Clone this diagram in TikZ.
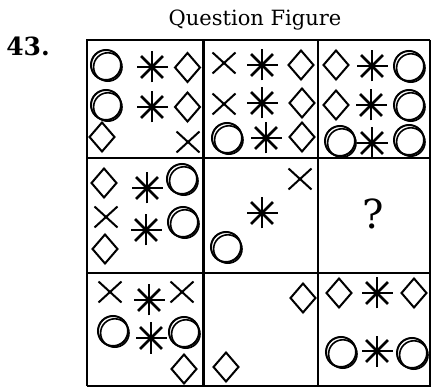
\documentclass[tikz,border=0pt]{standalone}
\usepackage{fontspec}
\setmainfont{DejaVu Serif}
\tikzset{
    symline/.style={line width=2.5pt, black},
    gridline/.style={line width=2.8pt, black},
    rimline/.style={line width=1.6pt, black},
    pics/ringsym/.style={code={
        \draw[line width=2pt] (0,0) circle (15);
        \draw[line width=1.6pt] (1.8,2) circle (14.2);
    }},
    pics/astsym/.style={code={
        \foreach \a in {0,45,90,135}
            \draw[symline] (\a:15.5) -- (\a+180:15.5);
    }},
    pics/diasym/.style={code={
        \draw[line width=2pt, miter limit=20] (0,-14.5) -- (12.5,0) -- (0,14.5) -- (-12.5,0) -- cycle;
    }},
    pics/crosssym/.style={code={
        \draw[line width=2pt] (-11.5,-10.5) -- (11.5,10.5) (-11.5,10.5) -- (11.5,-10.5);
    }}
}
\begin{document}
\begin{tikzpicture}[x=1pt, y=-1pt]
    \useasboundingbox (0,0) rectangle (431,387);
    % headings
    \node (title) at (255,20) {\fontsize{21}{24}\selectfont Question Figure};
    \node (qnum) at (28,46) {\fontsize{25}{28}\selectfont\bfseries 43.};
    % grid
    \draw[gridline] (87,386) -- (87,40) -- (430,40);
    \draw[rimline] (430,40) -- (430,386) -- (87,386);
    \draw[gridline] (203.5,40) -- (203.5,386);
    \draw[gridline] (318,40) -- (318,386);
    \draw[gridline] (87,158) -- (430,158);
    \draw[gridline] (87,273) -- (430,273);
    % row 1, cell 1
    \pic at (106,65) {ringsym};
    \pic at (152,67) {astsym};
    \pic at (187.5,67.5) {diasym};
    \pic at (106,105) {ringsym};
    \pic at (152,107) {astsym};
    \pic at (187.5,107) {diasym};
    \pic at (102,137) {diasym};
    \pic at (188,142) {crosssym};
    % row 1, cell 2
    \pic at (224,63) {crosssym};
    \pic at (262,65) {astsym};
    \pic at (301,65) {diasym};
    \pic at (224,104) {crosssym};
    \pic at (262,103) {astsym};
    \pic at (302,103) {diasym};
    \pic at (227,138) {ringsym};
    \pic at (266,138) {astsym};
    \pic at (302,137) {diasym};
    % row 1, cell 3
    \pic at (336,65) {diasym};
    \pic at (372,66) {astsym};
    \pic at (409,66) {ringsym};
    \pic at (336,105) {diasym};
    \pic at (371,105) {astsym};
    \pic at (409,105) {ringsym};
    \pic at (340,141) {ringsym};
    \pic at (372,143) {astsym};
    \pic at (409,140) {ringsym};
    % row 2, cell 1
    \pic at (104,183) {diasym};
    \pic at (147,188) {astsym};
    \pic at (182,179) {ringsym};
    \pic at (106,217) {crosssym};
    \pic at (146,230) {astsym};
    \pic at (183,222) {ringsym};
    \pic at (105,249) {diasym};
    % row 2, cell 2
    \pic at (300,179) {crosssym};
    \pic at (262,213) {astsym};
    \pic at (226,247) {ringsym};
    % row 2, cell 3
    \node (ask) at (373,214) {\fontsize{40}{44}\selectfont ?};
    % row 3, cell 1
    \pic at (110,292) {crosssym};
    \pic at (149,300) {astsym};
    \pic at (182,292) {crosssym};
    \pic at (113,331) {ringsym};
    \pic at (151,338) {astsym};
    \pic at (184,332) {ringsym};
    \pic at (184,369) {diasym};
    % row 3, cell 2
    \pic at (303,298) {diasym};
    \pic at (226,367) {diasym};
    % row 3, cell 3
    \pic at (339,293) {diasym};
    \pic at (377,293) {astsym};
    \pic at (414,293) {diasym};
    \pic at (341,352) {ringsym};
    \pic at (377,351) {astsym};
    \pic at (412,353) {ringsym};
\end{tikzpicture}
\end{document}
